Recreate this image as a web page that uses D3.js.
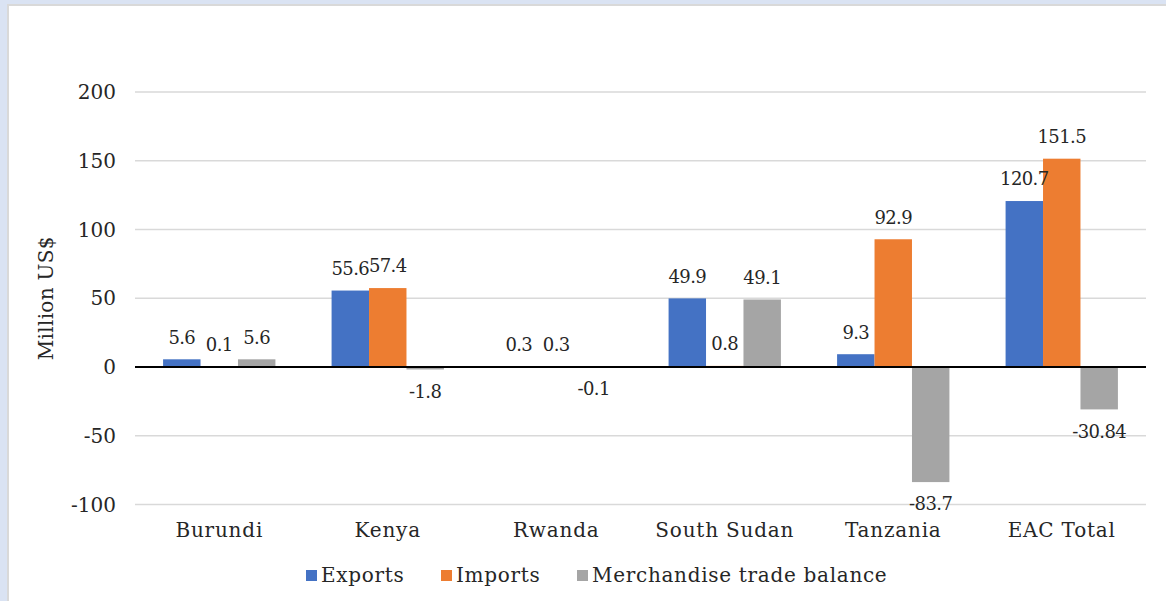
<!DOCTYPE html>
<html>
<head>
<meta charset="utf-8">
<script src="https://cdn.jsdelivr.net/npm/d3@7"></script>
<style>
  html, body { margin: 0; padding: 0; background: #dae3f3; }
  svg { display: block; }
  text { font-family: "DejaVu Serif", "Liberation Serif", serif; fill: #262626; }
</style>
</head>
<body>
<svg id="chart" width="1166" height="601"></svg>
<script>
// EAC trade figures, Million US$
const categories = ["Burundi", "Kenya", "Rwanda", "South Sudan", "Tanzania", "EAC Total"];
const seriesNames = ["Exports", "Imports", "Merchandise trade balance"];
const exportsVals = [5.6, 55.6, 0.3, 49.9, 9.3, 120.7];
const importsVals = [0.1, 57.4, 0.3, 0.8, 92.9, 151.5];
const balanceVals = [5.6, -1.8, -0.1, 49.1, -83.7, -30.84];
const yTicks = [-100, -50, 0, 50, 100, 150, 200];
const colors = ["#4472c4", "#ed7d31", "#a5a5a5"];

const series = [exportsVals, importsVals, balanceVals];
const FS = 20;

const svg = d3.select("#chart");

// chart panel with thin grey edge on top/left
svg.append("rect").attr("x", 7).attr("y", 4).attr("width", 1166 - 7).attr("height", 601 - 4).attr("fill", "#d9d9d9");
svg.append("rect").attr("x", 9).attr("y", 6).attr("width", 1166 - 9).attr("height", 601 - 6).attr("fill", "#ffffff");

const plot = { left: 135, right: 1146, top: 92, bottom: 504.5 };

const y = d3.scaleLinear().domain([-100, 200]).range([plot.bottom, plot.top]);
const x0 = d3.scaleBand().domain(categories).range([plot.left, plot.right]).paddingInner(0).paddingOuter(0);
const groupW = x0.bandwidth() * 3 / 4.5;
const x1 = d3.scaleBand().domain(d3.range(3)).range([0, groupW]).padding(0);

// gridlines
svg.append("g")
  .selectAll("line")
  .data(yTicks.filter(t => t !== 0))
  .join("line")
  .attr("x1", plot.left).attr("x2", plot.right)
  .attr("y1", d => y(d)).attr("y2", d => y(d))
  .attr("stroke", "#d9d9d9").attr("stroke-width", 1.5);

// y tick labels
svg.append("g")
  .selectAll("text")
  .data(yTicks)
  .join("text")
  .attr("x", 116).attr("y", d => y(d))
  .attr("dy", "0.35em")
  .attr("text-anchor", "end")
  .attr("font-size", FS)
  .text(d => d);

// axis title
svg.append("text")
  .attr("transform", `translate(53, ${(plot.top + plot.bottom) / 2}) rotate(-90)`)
  .attr("text-anchor", "middle")
  .attr("font-size", FS)
  .attr("letter-spacing", 0.3)
  .text("Million US$");

// bars
const groups = svg.append("g")
  .selectAll("g")
  .data(categories)
  .join("g")
  .attr("transform", d => `translate(${x0(d) + (x0.bandwidth() - groupW) / 2},0)`);

groups.selectAll("rect")
  .data((d, i) => series.map((s, k) => ({ k, v: s[i] })))
  .join("rect")
  .attr("x", d => x1(d.k))
  .attr("width", x1.bandwidth())
  .attr("y", d => y(Math.max(0, d.v)))
  .attr("height", d => Math.abs(y(d.v) - y(0)))
  .attr("fill", d => colors[d.k]);

// zero line
svg.append("line")
  .attr("x1", plot.left).attr("x2", plot.right)
  .attr("y1", y(0)).attr("y2", y(0))
  .attr("stroke", "#000").attr("stroke-width", 2);

// value labels
groups.selectAll("text.val")
  .data((d, i) => series.map((s, k) => ({ k, v: s[i] })))
  .join("text")
  .attr("class", "val")
  .attr("x", d => x1(d.k) + x1.bandwidth() / 2)
  .attr("y", d => d.v >= 0 ? y(d.v) - 22 : y(d.v) + 22)
  .attr("dy", "0.35em")
  .attr("text-anchor", "middle")
  .attr("font-size", 18)
  .attr("letter-spacing", -0.6)
  .text(d => d.v);

// category labels
svg.append("g")
  .selectAll("text")
  .data(categories)
  .join("text")
  .attr("x", d => x0(d) + x0.bandwidth() / 2)
  .attr("y", 530)
  .attr("dy", "0.35em")
  .attr("text-anchor", "middle")
  .attr("font-size", FS)
  .attr("letter-spacing", 0.8)
  .text(d => d);

// legend
const legendX = [306, 441, 577];
const legend = svg.append("g")
  .selectAll("g")
  .data(seriesNames)
  .join("g")
  .attr("transform", (d, i) => `translate(${legendX[i]}, 575)`);
legend.append("rect").attr("x", 0).attr("y", -5).attr("width", 11).attr("height", 11)
  .attr("fill", (d, i) => colors[i]);
legend.append("text").attr("x", 15).attr("y", 0).attr("dy", "0.35em")
  .attr("font-size", FS).attr("letter-spacing", 0.7).text(d => d);
</script>
</body>
</html>
